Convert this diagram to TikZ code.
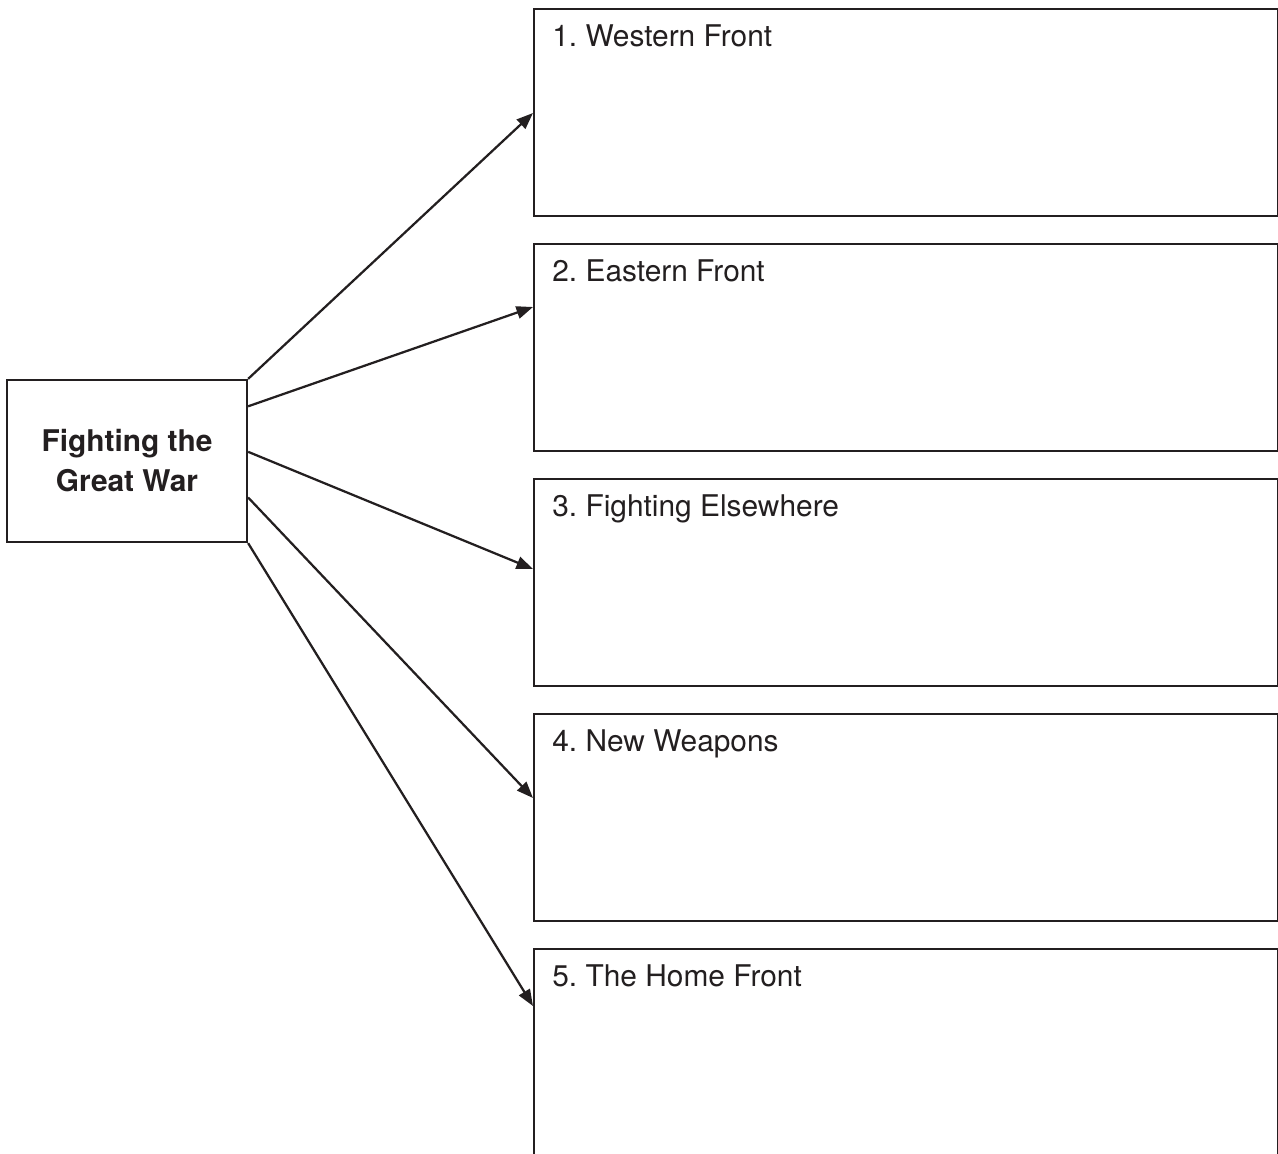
\documentclass[tikz,border=0pt]{standalone}
\usepackage{fontspec}
\setmainfont{TeX Gyre Heros}
\usetikzlibrary{positioning,arrows.meta,calc}
\definecolor{ink}{RGB}{35,31,32}
\frenchspacing

\begin{document}
\begin{tikzpicture}[
  hub/.style={draw=ink, line width=0.045cm, minimum width=4.8cm, minimum height=3.24cm, align=center, text=ink, font=\fontsize{17}{22.8}\selectfont\bfseries},
  topic/.style={draw=ink, line width=0.045cm, anchor=north west, minimum width=14.88cm, minimum height=4.14cm},
  ttl/.style={anchor=base west, xshift=0.38cm, yshift=-0.76cm, inner sep=0pt, text=ink, font=\fontsize{17}{22.8}\selectfont},
  arr/.style={-{Triangle[length=0.33cm, width=0.25cm]}, draw=ink, line width=0.045cm}
]
\useasboundingbox (0,0) rectangle (25.56,-23.08);
% central topic
\node[hub] (hub) at (2.54,-9.22) {Fighting the\\Great War};
% the five themes
\node[topic, label={[ttl]north west:1. Western Front}] (w1) at (10.66,-0.16) {};
\node[topic, label={[ttl]north west:2. Eastern Front}] (w2) at (10.66,-4.86) {};
\node[topic, label={[ttl]north west:3. Fighting Elsewhere}] (w3) at (10.66,-9.56) {};
\node[topic, label={[ttl]north west:4. New Weapons}] (w4) at (10.66,-14.26) {};
\node[topic, minimum height=4.6cm, label={[ttl]north west:5. The Home Front}] (w5) at (10.66,-18.96) {};
\foreach \i/\a/\b in {1/0/2.1, 2/0.167/1.28, 3/0.444/1.82, 4/0.722/1.7, 5/1/1.16}
  \draw[arr] ($(hub.north east)!\a!(hub.south east)$) -- ($(w\i.north west)+(0,-\b)$);
\end{tikzpicture}
\end{document}
